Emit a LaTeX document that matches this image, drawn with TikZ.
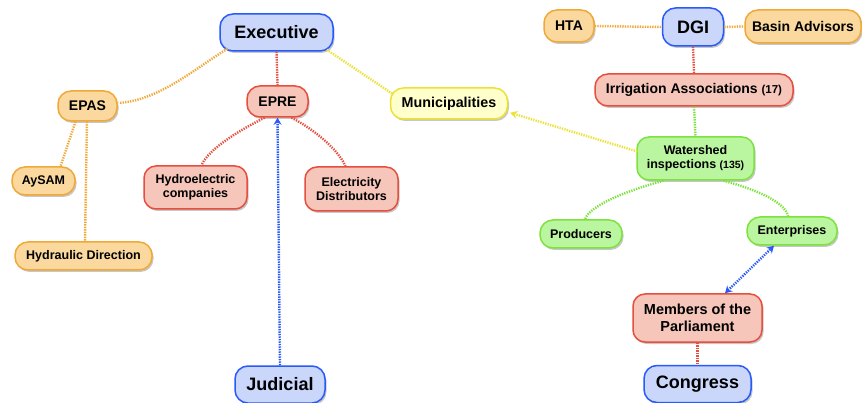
\documentclass[tikz,border=0pt]{standalone}
\usepackage{fontspec}
\setmainfont{Liberation Sans}
\usetikzlibrary{shadows,arrows.meta,calc}
\definecolor{fblue}{RGB}{202,214,250}
\definecolor{dblue}{RGB}{40,90,250}
\definecolor{forange}{RGB}{250,216,158}
\definecolor{dorange}{RGB}{240,168,55}
\definecolor{fred}{RGB}{246,198,186}
\definecolor{dred}{RGB}{230,78,62}
\definecolor{fyellow}{RGB}{255,255,204}
\definecolor{dyellow}{RGB}{236,226,52}
\definecolor{fgreen}{RGB}{186,245,160}
\definecolor{dgreen}{RGB}{125,226,62}
\tikzset{
  box/.style={draw, line width=1.5pt, rounded corners=13pt, align=center, inner sep=0pt,
    drop shadow={shadow xshift=1.5pt, shadow yshift=-2pt, fill=black, opacity=0.22}},
  bluebox/.style={box, draw=dblue, fill=fblue},
  orangebox/.style={box, draw=dorange, fill=forange},
  redbox/.style={box, draw=dred, fill=fred},
  yellowbox/.style={box, draw=dyellow, fill=fyellow},
  greenbox/.style={box, draw=dgreen, fill=fgreen},
  big/.style={font=\bfseries\fontsize{18}{21}\selectfont},
  mid/.style={font=\bfseries\fontsize{14}{16}\selectfont},
  sml/.style={font=\bfseries\fontsize{12.5}{14.5}\selectfont},
  link/.style={line width=2.4pt, dash pattern=on 1.3pt off 1.2pt},
  olink/.style={link, draw=dorange},
  rlink/.style={link, draw=dred},
  ylink/.style={link, draw=dyellow},
  glink/.style={link, draw=dgreen},
  blink/.style={link, draw=dblue},
  >={Stealth[length=7pt,width=8pt]}
}
\newcommand\smallnum[2]{{\fontsize{#1}{12}\selectfont #2}}
\begin{document}
\begin{tikzpicture}[x=1pt,y=-1pt]
\useasboundingbox (0,0) rectangle (862,403);
\fill[white] (0,0) rectangle (862,403);
% nodes
\node[bluebox, big, minimum width=113pt, minimum height=37pt] (exec) at (276.5,32.5) {Executive};
\node[orangebox, mid, minimum width=59pt, minimum height=30pt] (epas) at (87.5,106) {EPAS};
\node[redbox, mid, minimum width=61pt, minimum height=31pt] (epre) at (277.5,101.5) {EPRE};
\node[yellowbox, font=\bfseries\fontsize{14.3}{16}\selectfont, minimum width=117pt, minimum height=31pt] (muni) at (449,103.5) {Municipalities};
\node[orangebox, mid, minimum width=50pt, minimum height=32pt] (hta) at (569,26) {HTA};
\node[bluebox, big, minimum width=61pt, minimum height=38pt] (dgi) at (693,27) {DGI};
\node[orangebox, mid, minimum width=116pt, minimum height=33pt] (basin) at (803,26.5) {Basin Advisors};
\node[redbox, font=\bfseries\fontsize{14}{16}\selectfont, minimum width=198pt, minimum height=32pt] (irr) at (694,90) {Irrigation Associations \smallnum{11.5}{(17)}};
\node[greenbox, sml, rounded corners=12pt, minimum width=117pt, minimum height=43pt] (ws) at (695.5,158.5) {Watershed\\inspections \smallnum{10.5}{(135)}};
\node[greenbox, sml, minimum width=82pt, minimum height=28pt] (prod) at (581,234) {Producers};
\node[greenbox, sml, minimum width=90pt, minimum height=28pt] (ent) at (792,231) {Enterprises};
\node[orangebox, sml, minimum width=63pt, minimum height=28pt] (aysam) at (43.5,181) {AySAM};
\node[redbox, sml, rounded corners=12pt, minimum width=103pt, minimum height=43pt] (hydro) at (195.5,187.5) {Hydroelectric\\companies};
\node[redbox, sml, rounded corners=12pt, minimum width=93pt, minimum height=44pt] (elec) at (351.5,189) {Electricity\\Distributors};
\node[orangebox, sml, minimum width=137pt, minimum height=28pt] (hyd) at (83.5,256) {Hydraulic Direction};
\node[bluebox, big, minimum width=90pt, minimum height=37pt] (jud) at (280,384.5) {Judicial};
\node[redbox, font=\bfseries\fontsize{14.5}{16.5}\selectfont, rounded corners=12pt, minimum width=129pt, minimum height=48pt] (mem) at (697.5,318) {Members of the\\Parliament};
\node[bluebox, big, minimum width=107pt, minimum height=37pt] (cong) at (697.5,384) {Congress};
% connectors
\draw[olink] ($(exec.south west)+(8,-3)$) .. controls +(-35,22) and +(40,-3) .. ($(epas.east)+(1,-3)$);
\draw[rlink] (exec.south) -- (epre.north);
\draw[ylink] ($(exec.south east)+(-7,-2)$) -- ($(muni.west)+(3,-9.5)$);
\draw[olink] ($(epas.south)+(-12,0)$) -- ($(aysam.north)+(17,0)$);
\draw[olink] ($(epas.south)+(-0.5,0)$) -- ($(hyd.north)+(1.5,0)$);
\draw[rlink] ($(epre.south)+(-13,0)$) .. controls +(-20,10) and +(8,-18) .. ($(hydro.north)+(6,0)$);
\draw[rlink] ($(epre.south)+(14,0)$) .. controls +(20,10) and +(-8,-18) .. ($(elec.north)+(-6,0)$);
\draw[blink, ->] (jud.north) -- (epre.south);
\draw[olink] (hta.east) -- (dgi.west);
\draw[olink] (dgi.east) -- (basin.west);
\draw[rlink] (dgi.south) -- (irr.north);
\draw[glink] (irr.south) -- (ws.north);
\draw[ylink, ->] ($(ws.west)+(1,-7)$) -- ($(muni.south east)+(2,-7)$);
\draw[glink] ($(ws.south)+(-32,0)$) .. controls +(-30,8) and +(5,-15) .. ($(prod.north)+(4,0)$);
\draw[glink] ($(ws.south)+(28,0)$) .. controls +(30,8) and +(-3,-15) .. ($(ent.north)+(-4,0)$);
\draw[blink, <->] ($(mem.north)+(27.5,0)$) -- ($(ent.south)+(-18,0)$);
\draw[rlink] (mem.south) -- (cong.north);
\end{tikzpicture}
\end{document}
